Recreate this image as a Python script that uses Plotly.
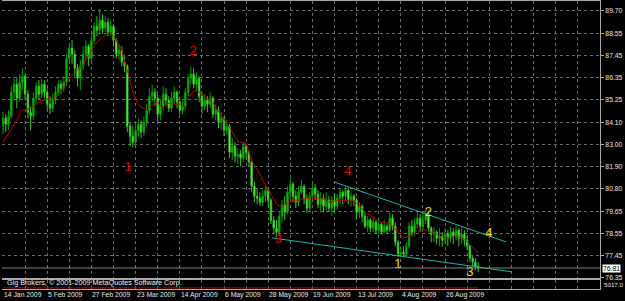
import plotly.graph_objects as go

# ---------------- data ----------------
bar_open = [
    83.9, 84.3, 84.0, 84.4, 85.6, 86.0, 85.3, 86.1, 86.4, 85.5,
    84.6, 84.4, 85.3, 85.9, 85.5, 86.0, 85.6, 85.0, 84.8, 85.2,
    85.6, 86.0, 85.8, 86.1, 87.3, 87.8, 87.5, 86.8, 86.3, 86.9,
    87.5, 87.9, 87.3, 88.2, 88.9, 88.7, 89.2, 88.8, 89.1, 88.6,
    88.9, 88.2, 87.5, 87.7, 87.1, 86.9, 83.9, 83.4, 83.1, 83.7,
    84.0, 83.6, 84.1, 84.7, 85.4, 85.6, 85.3, 84.5, 84.9, 85.5,
    85.2, 84.8, 85.3, 85.6, 85.1, 84.7, 84.9, 85.6, 86.3, 86.5,
    86.0, 86.3, 85.4, 84.9, 85.2, 85.0, 85.3, 84.5, 84.7, 84.1,
    84.3, 83.7, 83.9, 82.6, 82.9, 82.4, 82.5, 82.3, 82.9, 82.6,
    82.1, 80.9, 80.4, 80.3, 80.1, 80.4, 80.7, 80.2, 79.2, 78.8,
    78.6, 79.4, 80.0, 79.6, 80.6, 81.0, 80.4, 80.1, 80.6, 80.9,
    80.3, 79.8, 80.4, 80.8, 80.5, 80.0, 80.3, 79.9, 80.2, 79.8,
    80.2, 79.9, 80.3, 80.6, 80.4, 80.7, 80.2, 80.4, 80.2, 79.6,
    79.9, 79.4, 78.9, 79.2, 78.8, 79.1, 78.7, 79.0, 78.6, 78.9,
    78.7, 79.3, 78.9, 78.1, 77.5, 77.6, 77.5, 77.9, 78.9, 78.6,
    79.0, 79.3, 78.9, 79.2, 79.5, 78.8, 78.5, 78.6, 78.3, 78.4,
    78.2, 78.5, 78.3, 78.6, 78.4, 78.7, 78.3, 78.5, 78.2, 77.9,
    77.3, 77.1, 76.9,
]
bar_close = [
    84.3, 84.0, 84.4, 85.6, 86.0, 85.3, 86.1, 86.4, 85.5, 84.6,
    84.4, 85.3, 85.9, 85.5, 86.0, 85.6, 85.0, 84.8, 85.2, 85.6,
    86.0, 85.8, 86.1, 87.3, 87.8, 87.5, 86.8, 86.3, 86.9, 87.5,
    87.9, 87.3, 88.2, 88.9, 88.7, 89.2, 88.8, 89.1, 88.6, 88.9,
    88.2, 87.5, 87.7, 87.1, 86.9, 83.9, 83.4, 83.1, 83.7, 84.0,
    83.6, 84.1, 84.7, 85.4, 85.6, 85.3, 84.5, 84.9, 85.5, 85.2,
    84.8, 85.3, 85.6, 85.1, 84.7, 84.9, 85.6, 86.3, 86.5, 86.0,
    86.3, 85.4, 84.9, 85.2, 85.0, 85.3, 84.5, 84.7, 84.1, 84.3,
    83.7, 83.9, 82.6, 82.9, 82.4, 82.5, 82.3, 82.9, 82.6, 82.1,
    80.9, 80.4, 80.3, 80.1, 80.4, 80.7, 80.2, 79.2, 78.8, 78.6,
    79.4, 80.0, 79.6, 80.6, 81.0, 80.4, 80.1, 80.6, 80.9, 80.3,
    79.8, 80.4, 80.8, 80.5, 80.0, 80.3, 79.9, 80.2, 79.8, 80.2,
    79.9, 80.3, 80.6, 80.4, 80.7, 80.2, 80.4, 80.2, 79.6, 79.9,
    79.4, 78.9, 79.2, 78.8, 79.1, 78.7, 79.0, 78.6, 78.9, 78.7,
    79.3, 78.9, 78.1, 77.5, 77.6, 77.5, 77.9, 78.9, 78.6, 79.0,
    79.3, 78.9, 79.2, 79.5, 78.8, 78.5, 78.6, 78.3, 78.4, 78.2,
    78.5, 78.3, 78.6, 78.4, 78.7, 78.3, 78.5, 78.2, 77.9, 77.3,
    77.1, 76.9, 76.81,
]
bar_high = [
    84.6, 84.5, 84.7, 85.9, 86.4, 86.3, 86.5, 86.8, 86.5, 85.7,
    84.9, 85.6, 86.1, 86.2, 86.3, 86.2, 85.8, 85.4, 85.5, 85.9,
    86.2, 86.2, 86.4, 87.5, 88.0, 88.2, 87.7, 87.0, 87.2, 87.9,
    88.2, 88.0, 88.5, 89.1, 89.4, 89.75, 89.5, 89.4, 89.3, 89.2,
    89.0, 88.3, 88.0, 87.9, 87.4, 87.0, 84.1, 83.9, 84.0, 84.3,
    84.2, 84.4, 85.0, 85.8, 86.0, 85.8, 85.5, 85.2, 85.9, 85.8,
    85.4, 85.6, 85.9, 85.7, 85.3, 85.2, 85.8, 86.5, 86.9, 86.8,
    86.6, 86.4, 85.6, 85.5, 85.4, 85.6, 85.4, 85.0, 84.9, 84.6,
    84.4, 84.2, 84.0, 83.3, 83.1, 82.8, 82.7, 83.1, 83.0, 82.7,
    82.2, 81.1, 80.8, 80.6, 80.7, 80.9, 80.85, 80.3, 79.4, 79.2,
    79.6, 80.2, 80.4, 80.9, 81.35, 81.1, 80.7, 80.9, 81.2, 81.0,
    80.5, 80.6, 81.1, 81.0, 80.7, 80.6, 80.5, 80.6, 80.4, 80.4,
    80.5, 80.5, 80.8, 80.7, 80.9, 80.85, 80.6, 80.5, 80.3, 80.1,
    80.0, 79.6, 79.4, 79.3, 79.4, 79.2, 79.3, 79.1, 79.2, 79.0,
    79.6, 79.5, 79.1, 78.2, 77.9, 77.9, 78.1, 79.1, 79.2, 79.3,
    79.6, 79.5, 79.5, 79.7, 79.6, 78.9, 78.85, 78.7, 78.8, 78.6,
    78.8, 78.7, 78.85, 78.8, 78.9, 78.8, 78.85, 78.7, 78.4, 78.0,
    77.4, 77.3, 77.1,
]
bar_low = [
    83.5, 83.6, 83.7, 84.3, 85.2, 84.8, 85.1, 85.7, 85.2, 84.3,
    83.7, 84.2, 85.0, 85.2, 85.3, 85.3, 84.7, 84.5, 84.6, 85.0,
    85.4, 85.5, 85.6, 85.9, 87.1, 87.0, 86.4, 85.9, 85.7, 86.7,
    87.2, 86.9, 87.1, 88.0, 88.4, 88.5, 88.5, 88.6, 88.4, 88.4,
    87.9, 87.3, 87.2, 86.9, 86.6, 83.6, 82.9, 82.85, 82.9, 83.4,
    83.3, 83.4, 83.9, 84.5, 85.1, 84.9, 84.1, 84.2, 84.7, 84.9,
    84.6, 84.6, 85.0, 84.8, 84.5, 84.5, 84.7, 85.4, 86.0, 85.8,
    85.7, 85.1, 84.5, 84.7, 84.6, 84.8, 84.3, 84.2, 83.8, 83.7,
    83.4, 83.5, 82.3, 82.2, 82.1, 82.0, 81.9, 82.1, 82.3, 81.9,
    80.6, 80.1, 80.0, 79.9, 79.9, 80.1, 79.9, 79.0, 78.5, 78.35,
    78.4, 79.1, 79.2, 79.5, 80.3, 80.1, 79.8, 79.9, 80.5, 80.0,
    79.55, 79.6, 80.2, 80.2, 79.8, 79.6, 79.6, 79.7, 79.6, 79.4,
    79.6, 79.7, 80.0, 80.0, 80.2, 80.0, 79.9, 79.9, 79.3, 79.3,
    79.1, 78.8, 78.6, 78.6, 78.6, 78.5, 78.5, 78.5, 78.55, 78.5,
    78.6, 78.7, 77.9, 77.35, 77.35, 77.4, 77.4, 77.8, 78.4, 78.4,
    78.8, 78.6, 78.7, 79.0, 78.6, 78.1, 78.1, 78.0, 77.9, 77.85,
    78.0, 77.9, 78.1, 78.0, 78.2, 77.9, 78.0, 77.9, 77.7, 77.1,
    76.9, 76.7, 76.6,
]
moving_avg = [
    83.1, 83.3, 83.5, 83.75, 84.0, 84.2, 84.5, 84.7, 84.7, 84.75,
    84.8, 84.9, 85.0, 85.1, 85.2, 85.2, 85.25, 85.3, 85.35, 85.4,
    85.5, 85.65, 85.8, 86.0, 86.3, 86.45, 86.6, 86.75, 86.85, 86.95,
    87.2, 87.45, 87.7, 87.9, 88.1, 88.25, 88.35, 88.45, 88.5, 88.55,
    88.4, 88.2, 87.95, 87.7, 87.1, 86.7, 86.1, 85.6, 85.25, 85.0,
    84.85, 84.8, 84.8, 84.85, 84.95, 85.05, 85.1, 84.9, 84.85, 84.95,
    85.05, 85.05, 85.0, 84.95, 85.0, 85.05, 85.15, 85.3, 85.5, 85.65,
    85.7, 85.6, 85.5, 85.4, 85.25, 85.2, 85.05, 84.85, 84.7, 84.45,
    84.3, 84.1, 83.85, 83.6, 83.35, 83.15, 83.1, 83.05, 83.05, 82.6,
    82.2, 81.95, 81.75, 81.5, 81.2, 80.95, 80.75, 80.45, 80.25, 80.0,
    79.9, 79.95, 80.0, 80.05, 80.15, 80.2, 80.2, 80.2, 80.25, 80.25,
    80.3, 80.3, 80.3, 80.3, 80.3, 80.3, 80.25, 80.2, 80.1, 80.1,
    80.15, 80.2, 80.2, 80.2, 80.2, 80.2, 80.2, 80.15, 80.05, 79.95,
    79.75, 79.6, 79.5, 79.45, 79.35, 79.25, 79.15, 79.1, 79.1, 79.05,
    79.05, 78.9, 78.75, 78.55, 78.4, 78.3, 78.35, 78.4, 78.5, 78.6,
    78.65, 78.7, 78.75, 78.7, 78.65, 78.6, 78.55, 78.5, 78.4, 78.35,
    78.35, 78.35, 78.35, 78.35, 78.35, 78.35, 78.35, 78.25, 78.1, 77.95,
    77.8, 77.7, 77.6,
]
bar_index = list(range(len(bar_close)))

date_labels = ["14 Jan 2009", "5 Feb 2009", "27 Feb 2009", "23 Mar 2009",
               "14 Apr 2009", "6 May 2009", "28 May 2009", "19 Jun 2009",
               "13 Jul 2009", "4 Aug 2009", "26 Aug 2009"]
date_label_bars = [0, 16, 32, 48, 64, 80, 96, 112, 128, 144, 160]

price_ticks = [89.70, 88.55, 87.45, 86.35, 85.25, 84.10, 83.00,
               81.90, 80.80, 79.65, 78.55, 77.45, 76.35]

trend_upper_x = [119.8, 182.1]
trend_upper_y = [81.115, 78.115]
trend_lower_x = [97.4, 184.3]
trend_lower_y = [78.315, 76.615]

wave_red_x = [45.3, 68.8, 99.7, 124.8]
wave_red_y = [81.8, 87.6, 78.2, 81.63]
wave_red_text = ["1", "2", "3", "4"]
wave_yel_x = [142.9, 154.0, 169.0, 175.9]
wave_yel_y = [76.97, 79.58, 76.55, 78.5]
wave_yel_text = ["1", "2", "3", "4"]

footer_text = "Gig Brokers, © 2001-2009 MetaQuotes Software Corp."
sub_axis_text = "5017.0"

# ---------------- figure ----------------
FONT = "Liberation Sans, Arial, sans-serif"
GRID = "#6a6a6a"
FRAME = "#a8a8a8"
AXFONT = 6.8

fig = go.Figure()

fig.add_trace(go.Candlestick(
    x=bar_index, open=bar_open, high=bar_high, low=bar_low, close=bar_close,
    increasing=dict(line=dict(color="#00a000", width=1), fillcolor="#1ed400"),
    decreasing=dict(line=dict(color="#2fc81e", width=1), fillcolor="#9cff70"),
    whiskerwidth=0, showlegend=False, hoverinfo="skip",
    xaxis="x", yaxis="y",
))

fig.add_trace(go.Scatter(
    x=bar_index, y=moving_avg, mode="lines",
    line=dict(color="#c80000", width=1), showlegend=False, hoverinfo="skip",
))

for tx, ty in ((trend_upper_x, trend_upper_y), (trend_lower_x, trend_lower_y)):
    fig.add_trace(go.Scatter(
        x=tx, y=ty, mode="lines", line=dict(color="#20b2aa", width=1),
        showlegend=False, hoverinfo="skip",
    ))

fig.add_trace(go.Scatter(
    x=wave_red_x, y=wave_red_y, text=wave_red_text, mode="text",
    textfont=dict(family=FONT, size=13, color="#e80000"),
    showlegend=False, hoverinfo="skip",
))
fig.add_trace(go.Scatter(
    x=wave_yel_x, y=wave_yel_y, text=wave_yel_text, mode="text",
    textfont=dict(family=FONT, size=13, color="#e6e600"),
    showlegend=False, hoverinfo="skip",
))

# current price line
fig.add_hline(y=bar_close[-1], line=dict(color="#808080", width=1),
              xref="x", yref="y")

# subwindow dummy trace so the axis is drawn
fig.add_trace(go.Scatter(x=[bar_index[0]], y=[0.5], mode="markers",
                         marker=dict(size=1, color="rgba(0,0,0,0)"),
                         xaxis="x2", yaxis="y2", showlegend=False,
                         hoverinfo="skip"))

x_range = [-0.36, 216.1]
fig.update_layout(
    width=625, height=301,
    margin=dict(l=2, r=25, t=1, b=12),
    paper_bgcolor="black", plot_bgcolor="black",
    font=dict(family=FONT, size=AXFONT, color="#e8e8e8"),
    showlegend=False,
    xaxis=dict(
        domain=[0, 1], range=x_range, anchor="y",
        tick0=0, dtick=8, showticklabels=False, ticks="",
        showgrid=True, gridcolor=GRID, griddash="3px,3px", gridwidth=1,
        zeroline=False, showline=True, mirror=True, linecolor=FRAME,
        rangeslider=dict(visible=False),
    ),
    yaxis=dict(
        domain=[0.0382, 1], range=[76.31, 90.16], side="right", anchor="x",
        tickvals=price_ticks, ticktext=["%.2f" % v for v in price_ticks],
        ticks="outside", ticklen=3, tickcolor=FRAME,
        tickfont=dict(family=FONT, size=AXFONT, color="#e8e8e8"),
        showgrid=True, gridcolor=GRID, griddash="3px,3px", gridwidth=1,
        zeroline=False, showline=True, linecolor=FRAME,
    ),
    xaxis2=dict(
        domain=[0, 1], range=x_range, anchor="y2", matches="x",
        tick0=0, dtick=8, showticklabels=False, ticks="",
        showgrid=True, gridcolor=GRID, griddash="3px,3px",
        zeroline=False, showline=True, mirror=True, linecolor=FRAME,
    ),
    yaxis2=dict(
        domain=[0, 0.03125], range=[0, 1], side="right", anchor="x2",
        showticklabels=False, ticks="", showgrid=False, zeroline=False,
        showline=True, linecolor=FRAME,
    ),
)

# red indicator line in the sub window
fig.add_shape(type="line", xref="x2", yref="y2 domain",
              x0=bar_index[0], x1=bar_index[-1], y0=0.12, y1=0.12,
              line=dict(color="#c00000", width=1))

# footer text in sub window
fig.add_annotation(text=footer_text, xref="paper", yref="y2 domain",
                   x=0, y=0.75, xanchor="left", yanchor="middle", xshift=3,
                   showarrow=False,
                   font=dict(family=FONT, size=7.2, color="#f0f0f0"))

# sub-window axis value
fig.add_annotation(text=sub_axis_text, xref="paper", yref="y2 domain",
                   x=1, y=0.5, xanchor="left", yanchor="middle", xshift=2,
                   showarrow=False,
                   font=dict(family=FONT, size=6.2, color="#e0e0e0"))

# current price box
fig.add_annotation(text="%.2f" % bar_close[-1], xref="paper", yref="y",
                   x=1, y=bar_close[-1], xanchor="left", yanchor="middle",
                   xshift=2, showarrow=False, bgcolor="#ffffff",
                   borderpad=0,
                   font=dict(family=FONT, size=AXFONT, color="#000000"))

# date labels (left aligned at their bar, MT4 style)
for pos, lab in zip(date_label_bars, date_labels):
    fig.add_annotation(text=lab, xref="x", yref="paper",
                       x=pos, y=-0.0208, xanchor="left", yanchor="middle",
                       xshift=-1, showarrow=False,
                       font=dict(family=FONT, size=AXFONT, color="#e8e8e8"))

fig.write_html("out.html")
